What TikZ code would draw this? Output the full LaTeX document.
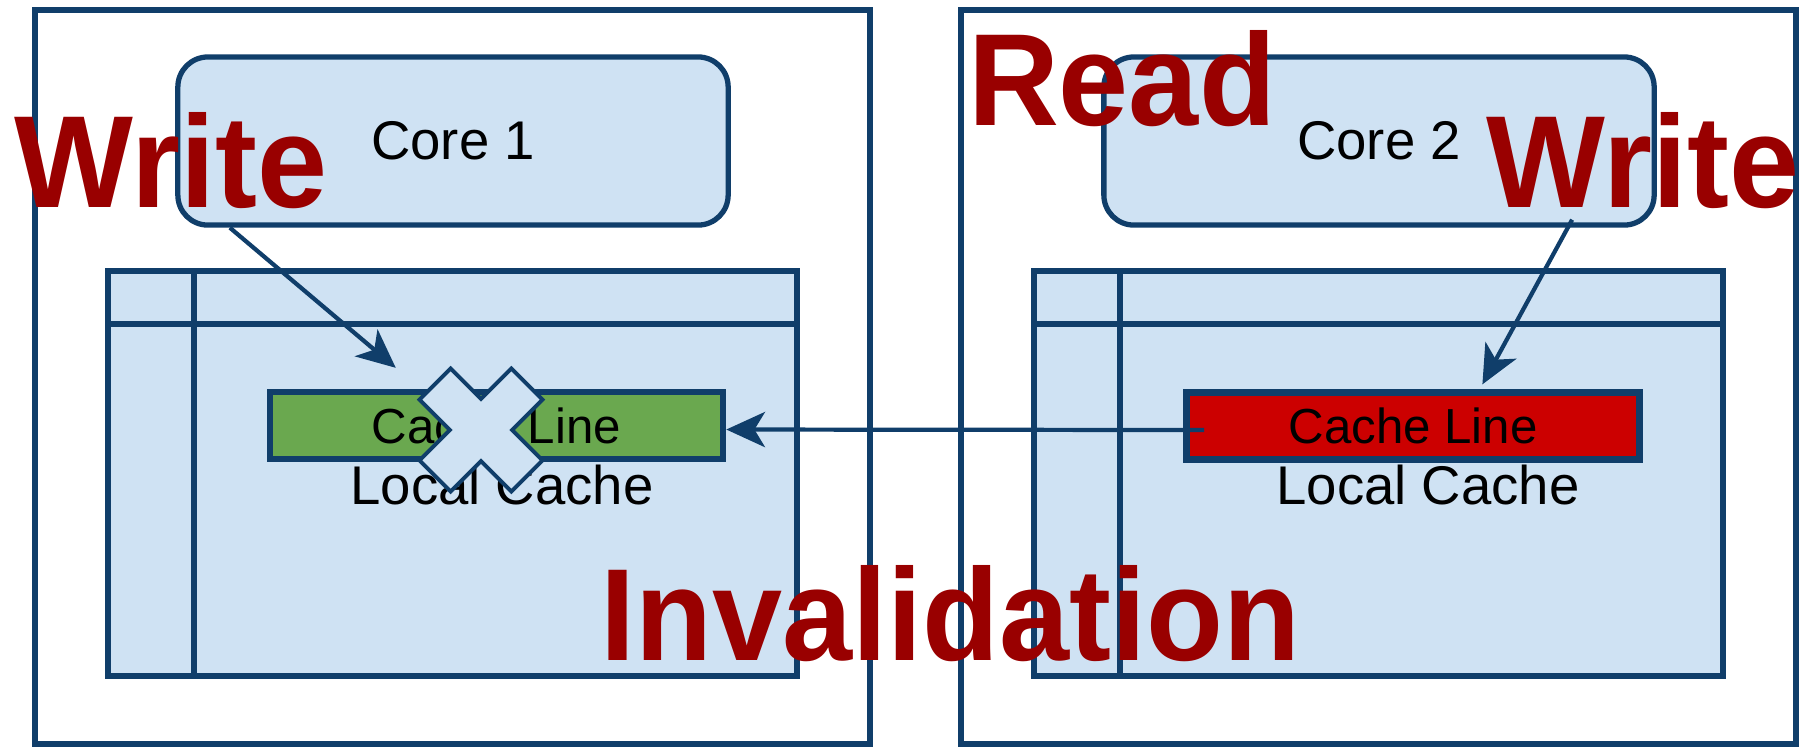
\documentclass[tikz,border=0pt]{standalone}
\usepackage{fontspec}
\setmainfont{Liberation Sans}
\newfontfamily\shoutfont[FakeStretch=0.96]{Liberation Sans}
\usetikzlibrary{arrows.meta}
\definecolor{edgeblue}{RGB}{16,62,106}
\definecolor{paleblue}{RGB}{207,226,243}
\definecolor{okgreen}{RGB}{106,168,79}
\definecolor{dirtyred}{RGB}{204,0,0}
\definecolor{shoutred}{RGB}{153,0,0}
\tikzset{chip/.style={draw=edgeblue,line width=1.5pt},
  core/.style={chip,fill=paleblue,rounded corners=0.3cm,minimum width=5.5cm,minimum height=1.68cm,
    font=\fontsize{15.5}{18}\selectfont},
  cachetext/.style={anchor=base,inner sep=0pt,font=\fontsize{15.5}{18}\selectfont},
  cacheline/.style={draw=edgeblue,line width=1.8pt,minimum width=4.53cm,minimum height=0.67cm,
    inner sep=0pt,font=\fontsize{14}{16}\selectfont},
  xmark/.style={draw=edgeblue,line width=1.1pt,fill=paleblue,line join=miter},
  arr/.style={-{Stealth[length=11pt,width=10pt,inset=3pt]},draw=edgeblue,line width=1.2pt},
  shout/.style={text=shoutred,anchor=base,inner sep=0pt,font=\shoutfont\bfseries\fontsize{37.3}{40}\selectfont}}

\begin{document}
\begin{tikzpicture}[x=0.01cm,y=-0.01cm]
\useasboundingbox (0,0) rectangle (1816,747);
% two cores, each with its own local cache
\foreach \i/\dx in {1/0,2/926}{
  \draw[chip] (35+\dx,10) rectangle (870+\dx,744);
  \draw[chip,fill=paleblue] (108+\dx,271) rectangle (797+\dx,676);
  \draw[chip] (108+\dx,324) -- (797+\dx,324) (194+\dx,271) -- (194+\dx,676);
  \node[core] (core\i) at (453+\dx,141) {Core \i};
  \node[cachetext] (local\i) at (502+\dx,504) {Local Cache};
}
\node[cacheline,fill=okgreen] (line1) at (496.5,425.5) {Cache Line};
\node[cacheline,fill=dirtyred] (line2) at (1413,426) {Cache Line};
% invalidated copy
\draw[xmark,shift={(481,430)},rotate=45] (22,22) -- (65,22) -- (65,-22) -- (22,-22) -- (22,-65)
  -- (-22,-65) -- (-22,-22) -- (-65,-22) -- (-65,22) -- (-22,22) -- (-22,65) -- (22,65) -- cycle;
\draw[arr] ([xshift=-2.23cm]core1.south) -- ([xshift=1.29cm,yshift=0.21cm]line1.north west);
\draw[arr] ([xshift=1.93cm,yshift=0.08cm]core2.south) -- ([xshift=2.99cm,yshift=0.05cm]line2.north west);
\draw[arr] ([xshift=0.21cm,yshift=-0.04cm]line2.west) -- ([yshift=-0.04cm]line1.east);
\node[shout] (write1) at (171,207) {Write};
\node[shout] (read2) at (1122,125) {Read};
\node[shout] (write2) at (1643,207) {Write};
\node[shout] (inval) at (950,660) {Invalidation};
\end{tikzpicture}
\end{document}
